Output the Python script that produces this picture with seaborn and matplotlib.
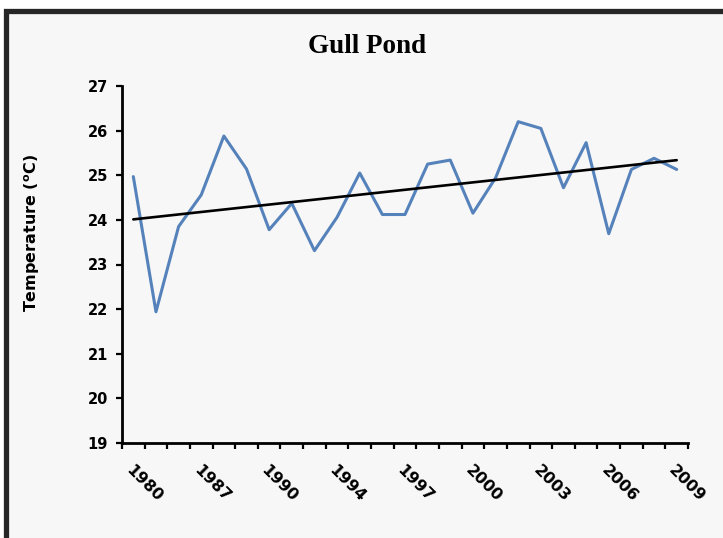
import matplotlib
matplotlib.use("Agg")
import matplotlib.pyplot as plt
import matplotlib.patches as patches
import numpy as np
import pandas as pd
import seaborn as sns

# ---- data ----
category_index = list(range(25))
temperatures = [24.97, 21.94, 23.85, 24.56, 25.88, 25.14, 23.78, 24.37, 23.31, 24.06,
                25.05, 24.12, 24.12, 25.25, 25.34, 24.15, 24.94, 26.20, 26.05, 24.72,
                25.73, 23.69, 25.13, 25.38, 25.13]
label_positions = [0, 3, 6, 9, 12, 15, 18, 21, 24]
tick_labels = ["1980", "1987", "1990", "1994", "1997", "2000", "2003", "2006", "2009"]
y_ticks = [19, 20, 21, 22, 23, 24, 25, 26, 27]

df = pd.DataFrame({"idx": category_index, "temp": temperatures})

sns.set_theme(style="white")
plt.rcParams["font.family"] = ["DejaVu Sans"]
plt.rcParams["text.color"] = "black"
plt.rcParams["xtick.color"] = "black"
plt.rcParams["ytick.color"] = "black"
plt.rcParams["axes.labelcolor"] = "black"

fig = plt.figure(figsize=(7.23, 5.38), dpi=100)
fig.patch.set_facecolor("white")

# outer frame (cropped at right and bottom like the reference)
frame = patches.Rectangle((5.5 / 723, -0.05), 1.2, 1 - 10.5 / 538 + 0.05,
                          transform=fig.transFigure, facecolor="#f7f7f7",
                          edgecolor="#262626", linewidth=3.8, zorder=-10)
fig.patches.append(frame)

ax = fig.add_axes([122 / 723, 1 - 443 / 538, (688 - 122) / 723, (443 - 86) / 538])
ax.set_facecolor("none")
ax.set_zorder(5)

sns.lineplot(data=df, x="idx", y="temp", ax=ax, color="#5682bb", linewidth=2.2)
sns.regplot(data=df, x="idx", y="temp", ax=ax, scatter=False, ci=None,
            line_kws={"color": "black", "linewidth": 1.9})

ax.set_xlim(-0.5, 24.5)
ax.set_ylim(19, 27)
ax.set_yticks(y_ticks)
ax.set_yticklabels([str(v) for v in y_ticks], fontsize=10.5, fontweight="bold")

ax.set_xticks(label_positions)
ax.set_xticklabels(tick_labels, rotation=-45, ha="left", va="top",
                   rotation_mode="anchor", fontsize=11.5, fontweight="bold")
ax.set_xticks(np.arange(-0.5, 25, 1), minor=True)
ax.tick_params(axis="x", which="major", length=0, pad=14)
ax.tick_params(axis="x", which="minor", length=4, width=1.6, direction="out",
               color="black", bottom=True)
ax.tick_params(axis="y", which="major", length=4, width=1.6, direction="out",
               color="black", left=True, pad=6)

for side in ["top", "right"]:
    ax.spines[side].set_visible(False)
for side in ["left", "bottom"]:
    ax.spines[side].set_color("black")
    ax.spines[side].set_linewidth(2.0)

ax.set_xlabel("")
ax.set_ylabel(r"Temperature ($\mathbf{^{o}}$C)", fontsize=11.5, fontweight="bold")
ax.yaxis.set_label_coords(-0.142, 0.588)

fig.text(367 / 723, 1 - 53 / 538, "Gull Pond", ha="center", va="baseline",
         fontsize=19.5, fontweight="bold", family=["Liberation Serif"], color="black")

fig.savefig("out.png", dpi=100, facecolor=fig.get_facecolor())
